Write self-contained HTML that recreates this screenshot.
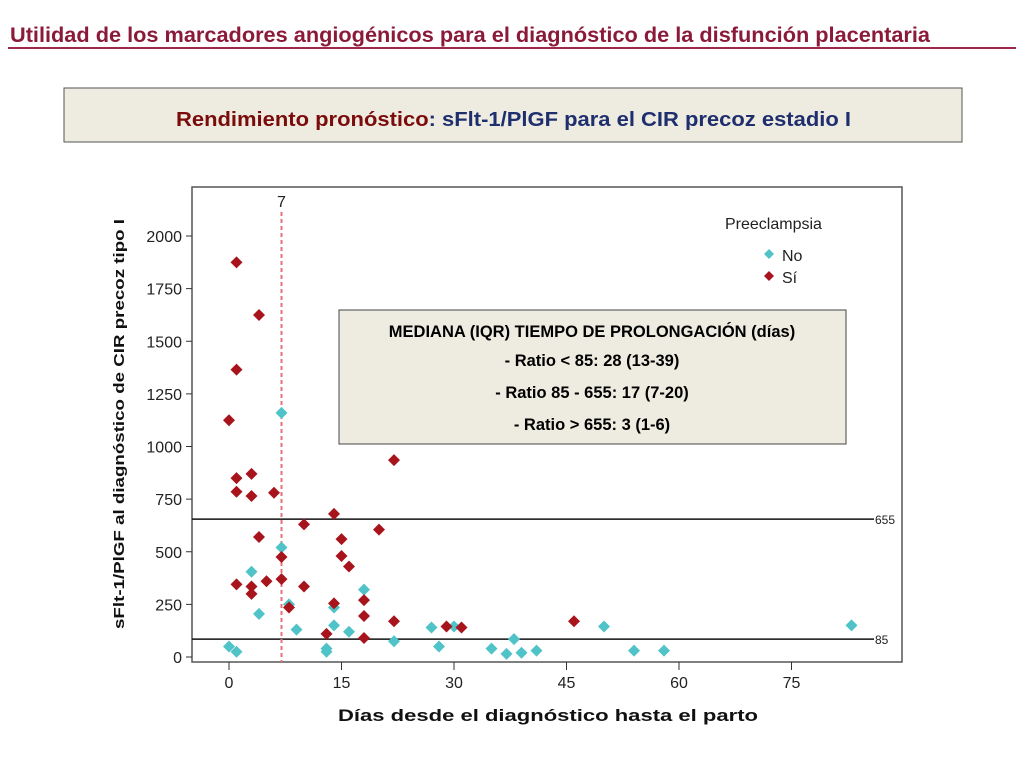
<!DOCTYPE html>
<html><head><meta charset="utf-8"><style>
body{margin:0;background:#fff;width:1024px;height:768px;overflow:hidden}
svg{display:block;font-family:"Liberation Sans",sans-serif}
</style></head><body>
<svg id="chart" width="1024" height="768" viewBox="0 0 1024 768">
<text x="10" y="42" font-size="21" font-weight="bold" fill="#8b1a3a" textLength="920" lengthAdjust="spacingAndGlyphs">Utilidad de los marcadores angiogénicos para el diagnóstico de la disfunción placentaria</text>
<line x1="8" y1="48" x2="1016" y2="48" stroke="#a0284a" stroke-width="2"/>
<rect x="64" y="88" width="898" height="54" fill="#eeece1" stroke="#555" stroke-width="1"/>
<text x="176" y="126" font-size="20" font-weight="bold" textLength="675" lengthAdjust="spacingAndGlyphs"><tspan fill="#7a0c0c">Rendimiento pronóstico</tspan><tspan fill="#1f2f6e">: sFlt-1/PlGF para el CIR precoz estadio I</tspan></text>
<rect x="192" y="187" width="710" height="475" fill="#fff" stroke="#555" stroke-width="1.5"/>
<g id="yaxis"></g>
<g id="xaxis"></g>
<g id="refs"></g>
<rect x="339" y="310" width="507" height="134" fill="#eeece1" stroke="#444" stroke-width="1"/>
<g font-size="16.5" font-weight="bold" text-anchor="middle" fill="#000">
<text x="592" y="337">MEDIANA (IQR) TIEMPO DE PROLONGACIÓN (días)</text>
<text x="592" y="366">- Ratio &lt; 85: 28 (13-39)</text>
<text x="592" y="398">- Ratio 85 - 655: 17 (7-20)</text>
<text x="592" y="430">- Ratio &gt; 655: 3 (1-6)</text>
</g>
<g id="points"></g>
<g>
<text x="725" y="229" font-size="16" fill="#222">Preeclampsia</text>
<path d="M769 249 l5 5 l-5 5 l-5 -5z" fill="#4fc3c8"/>
<text x="782" y="261" font-size="16" fill="#222">No</text>
<path d="M769 271 l5 5 l-5 5 l-5 -5z" fill="#a8141c"/>
<text x="782" y="283" font-size="16" fill="#222">Sí</text>
</g>
<text transform="translate(124,424) rotate(-90)" font-size="15" font-weight="bold" text-anchor="middle" fill="#111" textLength="410" lengthAdjust="spacingAndGlyphs">sFlt-1/PlGF al diagnóstico de CIR precoz tipo I</text>
<text x="548" y="721" font-size="17" font-weight="bold" text-anchor="middle" fill="#111" textLength="420" lengthAdjust="spacingAndGlyphs">Días desde el diagnóstico hasta el parto</text>
</svg>
<script>
const xTicks=[0,15,30,45,60,75];
const yTicks=[0,250,500,750,1000,1250,1500,1750,2000];
const refValues=[655,85];
const cutDay=7;
const noX=[7,7,3,4,8,9,14,14,16,18,22,13,13,0,1,27,28,30,35,37,38,39,41,50,54,58,83];
const noY=[1160,520,405,205,250,130,235,150,120,320,75,40,25,50,25,140,50,145,40,15,85,20,30,145,30,30,150];
const siX=[1,4,1,0,22,1,3,1,3,6,14,10,20,4,15,15,16,7,1,3,5,7,10,3,8,14,18,18,22,13,18,29,31,46];
const siY=[1875,1625,1365,1125,935,850,870,785,765,780,680,630,605,570,560,480,430,475,345,335,360,370,335,300,235,255,270,195,170,110,90,145,140,170];
const NS='http://www.w3.org/2000/svg';
const sx=v=>229+v*7.5;
const sy=v=>657-v*0.2105;
function mk(tag,attrs,parent){const e=document.createElementNS(NS,tag);for(const k in attrs)e.setAttribute(k,attrs[k]);parent.appendChild(e);return e;}
const ya=document.getElementById('yaxis'),xa=document.getElementById('xaxis'),refs=document.getElementById('refs'),pts=document.getElementById('points');
yTicks.forEach(t=>{
 const l=mk('line',{x1:186,x2:192,y1:sy(t),y2:sy(t),stroke:'#333'},ya);
 
 
 const tx=mk('text',{x:182,y:sy(t)+6,'font-size':16,'text-anchor':'end',fill:'#222'},ya);
 tx.textContent=t;
 
 
});
xTicks.forEach(t=>{
 const l=mk('line',{x1:sx(t),x2:sx(t),y1:662,y2:670,stroke:'#333'},xa);
 
 
 const tx=mk('text',{x:sx(t),y:688,'font-size':16,'text-anchor':'middle',fill:'#222'},xa);
 tx.textContent=t;
 
 
});
refValues.forEach(v=>{
 const l=mk('line',{x1:192,x2:874,y1:sy(v),y2:sy(v),stroke:'#111','stroke-width':1.5},refs);
 
 
 const tx=mk('text',{x:875,y:sy(v)+5,'font-size':12,fill:'#222'},refs);
 tx.textContent=v;
 
 
});
const dl=mk('line',{x1:sx(cutDay),x2:sx(cutDay),y1:212,y2:662,stroke:'#e8707a','stroke-width':2,'stroke-dasharray':'4,3'},refs);


const dt=mk('text',{x:sx(cutDay),y:207,'font-size':16,'text-anchor':'middle',fill:'#222'},refs);
dt.textContent=cutDay;


function diamond(x,y,c,name){
 const p=mk('path',{d:`M${sx(x)} ${sy(y)-6} l6 6 l-6 6 l-6 -6z`,fill:c},pts);
 
 
}
noX.forEach((x,i)=>diamond(x,noY[i],'#4fc3c8','point-no'));
siX.forEach((x,i)=>diamond(x,siY[i],'#a8141c','point-si'));
</script>
</body></html>
